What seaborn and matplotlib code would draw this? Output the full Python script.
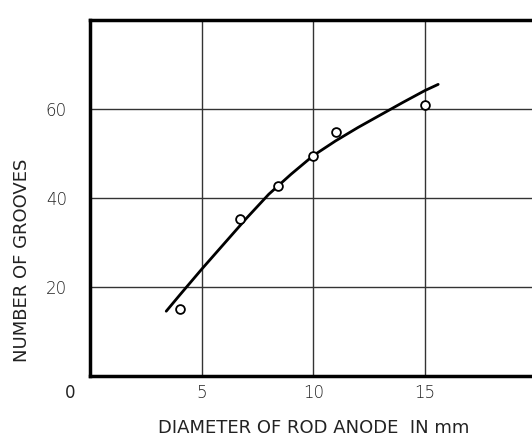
import matplotlib
matplotlib.use("Agg")
import matplotlib.pyplot as plt
import seaborn as sns
import pandas as pd

# measured points
pt_x = [4.0, 6.7, 8.4, 10.0, 11.0, 15.0]
pt_y = [15.0, 35.3, 42.6, 49.4, 54.8, 60.8]

# hand-drawn fitted curve
curve_x = [3.4, 4.0, 5.0, 6.0, 7.0, 8.0, 9.0, 10.0, 11.0, 12.0, 13.0, 14.0, 15.0, 15.6]
curve_y = [14.5, 18.1, 24.0, 29.7, 35.4, 40.8, 45.3, 49.5, 52.8, 55.8, 58.6, 61.4, 64.1, 65.5]

x_ticks = [5, 10, 15]
x_tick_labels = ["5", "10", "15"]
y_ticks = [20, 40, 60]
y_tick_labels = ["20", "40", "60"]

sns.set_style("white")
plt.rcParams['font.family'] = ['DejaVu Sans']

fig = plt.figure(figsize=(5.32, 4.42), dpi=100)
ax = fig.add_axes([0.170, 0.150, 0.838, 0.805])

curve = pd.DataFrame({"x": curve_x, "y": curve_y})
pts = pd.DataFrame({"x": pt_x, "y": pt_y})

for v in x_ticks:
    ax.axvline(v, color="#333333", lw=1.0, zorder=1)
for v in y_ticks:
    ax.axhline(v, color="#333333", lw=1.0, zorder=1)

sns.lineplot(data=curve, x="x", y="y", ax=ax, color="black", lw=2.0, sort=True, zorder=3)
sns.scatterplot(data=pts, x="x", y="y", ax=ax, s=40, marker="o",
                facecolor="white", edgecolor="black", linewidth=1.3, zorder=4)

ax.set_xlim(0, 20)
ax.set_ylim(0, 80)
for side in ["left", "bottom", "top", "right"]:
    ax.spines[side].set_color("black")
    ax.spines[side].set_linewidth(2.5)

ax.set_xticks(x_ticks)
ax.set_xticklabels(x_tick_labels, fontsize=12, color="#222222", fontweight="light")
ax.set_yticks(y_ticks)
ax.set_yticklabels(y_tick_labels, fontsize=12, color="#222222", fontweight="light")
ax.tick_params(axis="x", length=0, pad=6)
ax.tick_params(axis="y", length=0, pad=17)
ax.text(-0.9, -4.0, "0", fontsize=12, color="#222222", ha="center", va="center", clip_on=False)

ax.set_xlabel("DIAMETER OF ROD ANODE  IN mm", fontsize=13, color="#222222", va="center")
ax.xaxis.set_label_coords(0.5, -0.147)
ax.set_ylabel("NUMBER OF GROOVES", fontsize=13, color="#222222", va="center")
ax.yaxis.set_label_coords(-0.154, 0.325)

fig.savefig("out.png", dpi=100)
